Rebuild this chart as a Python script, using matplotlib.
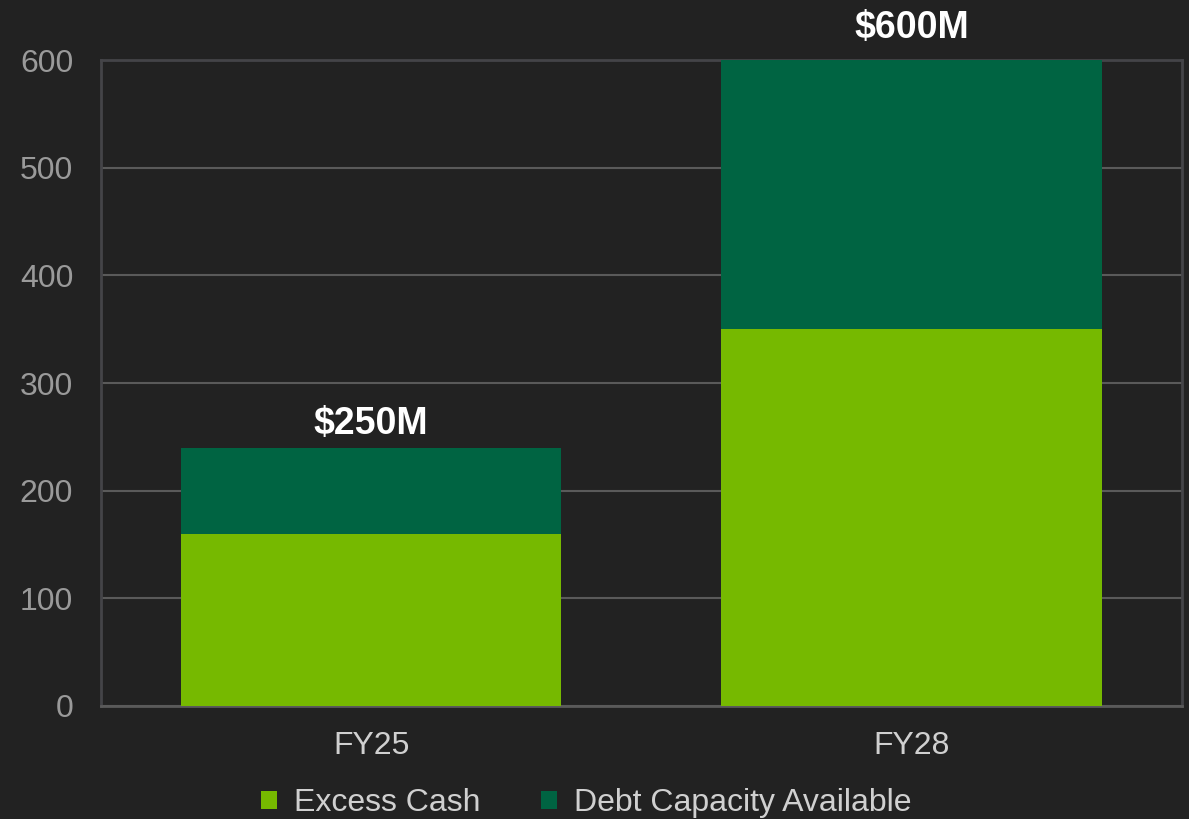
import matplotlib.pyplot as plt
import numpy as np

plt.rcParams['font.family'] = ['Liberation Sans', 'DejaVu Sans']

# data
years = ["FY25", "FY28"]
excess_cash = [160, 350]
debt_capacity = [80, 250]
total_labels = ["$250M", "$600M"]
y_ticks = [0, 100, 200, 300, 400, 500, 600]

bg = "#222222"
green_light = "#76b900"
green_dark = "#006442"

fig = plt.figure(figsize=(11.89, 8.19), dpi=100, facecolor=bg)
ax = fig.add_axes([0.0849, 0.138, 0.9092, 0.7887])
ax.set_facecolor(bg)

x = np.arange(len(years))
ax.bar(x, excess_cash, width=0.704, color=green_light, label="Excess Cash", zorder=3)
ax.bar(x, debt_capacity, width=0.704, bottom=excess_cash, color=green_dark,
       label="Debt Capacity Available", zorder=3)

# totals above each bar
tops = np.array(excess_cash) + np.array(debt_capacity)
pads = [10, 16]
for i in range(len(years)):
    ax.annotate(total_labels[i], (x[i], tops[i]), xytext=(0, pads[i]), textcoords="offset points",
                ha="center", va="baseline", fontsize=27, fontweight="bold", color="white")

ax.set_xlim(-0.5, 1.5)
ax.set_ylim(0, 600)
ax.set_yticks(y_ticks)
ax.set_xticks(x)
ax.set_xticklabels(years)
ax.grid(axis="y", color="#5a5a5a", linewidth=1.5, zorder=0)
ax.tick_params(axis="y", length=0, labelsize=23, labelcolor="#9a9a9a", pad=20)
ax.tick_params(axis="x", length=0, labelsize=23, labelcolor="#d0d0d0", pad=18)

for side in ["left", "top", "right"]:
    ax.spines[side].set_color("#444448")
    ax.spines[side].set_linewidth(2)
ax.spines["bottom"].set_color("#5a5a5a")
ax.spines["bottom"].set_linewidth(2)

handles, labels = ax.get_legend_handles_labels()
leg = fig.legend(handles, labels, loc="center", bbox_to_anchor=(586.5 / 1189, 1 - 803 / 819), ncol=2,
                 frameon=False, fontsize=23, handlelength=0.5, handleheight=0.5,
                 handletextpad=0.54, columnspacing=1.88, borderpad=0, borderaxespad=0)
for t in leg.get_texts():
    t.set_color("#d0d0d0")

fig.savefig("out.png", dpi=100, facecolor=bg)
